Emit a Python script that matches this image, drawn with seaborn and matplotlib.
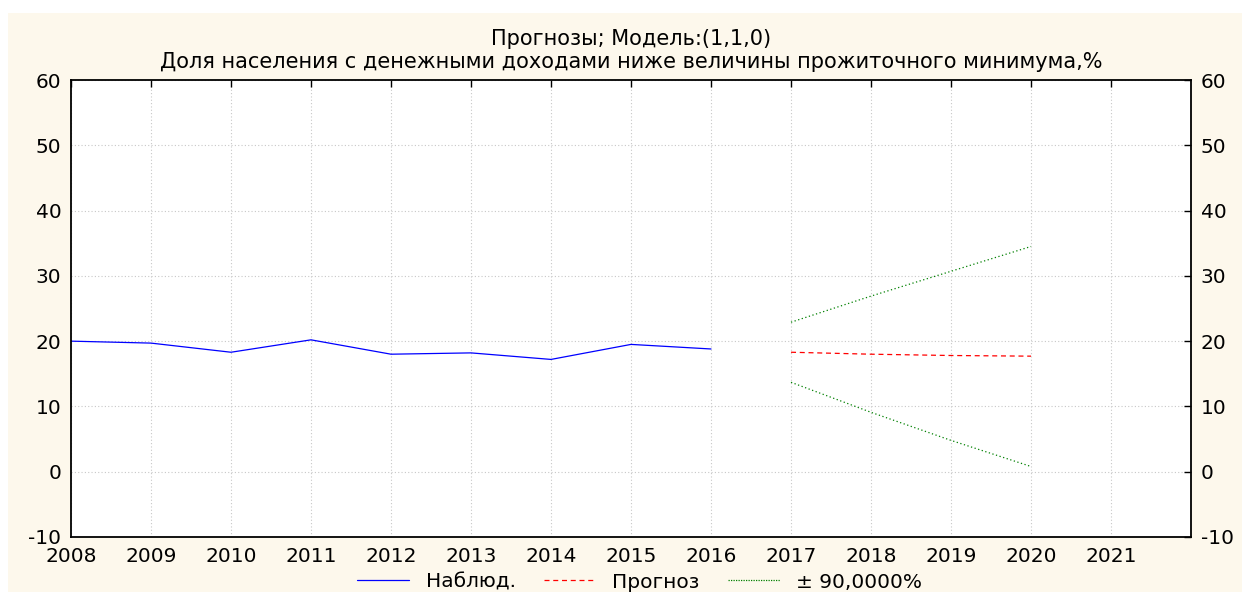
import matplotlib.pyplot as plt
import matplotlib.patches as mpatches
import seaborn as sns
import pandas as pd

# Наблюдаемые значения
years_obs = [2008, 2009, 2010, 2011, 2012, 2013, 2014, 2015, 2016]
observed = [20.0, 19.7, 18.3, 20.2, 18.0, 18.2, 17.2, 19.5, 18.8]

# Прогноз и доверительные границы
years_fc = [2017, 2018, 2019, 2020]
forecast = [18.3, 18.0, 17.8, 17.7]
upper = [22.9, 26.9, 30.7, 34.5]
lower = [13.7, 9.1, 4.8, 0.8]

title = 'Прогнозы; Модель:(1,1,0)\nДоля населения с денежными доходами ниже величины прожиточного минимума,%'
labels = ['Наблюд.', 'Прогноз', '± 90,0000%']

sns.set_theme(style='white')
plt.rcParams['font.family'] = ['DejaVu Sans']
plt.rcParams['axes.unicode_minus'] = False
plt.rcParams['text.color'] = 'black'
plt.rcParams['xtick.color'] = 'black'
plt.rcParams['ytick.color'] = 'black'

cream = '#fdf8ec'
fig = plt.figure(figsize=(12.42, 5.92), dpi=100, facecolor='white')
fig.patches.append(mpatches.Rectangle((8 / 1242, 0), 1, 1 - 13 / 592, transform=fig.transFigure,
                                      facecolor=cream, edgecolor='none', zorder=-10))
ax = fig.add_axes([71 / 1242, 1 - 537 / 592, 1120 / 1242, 457 / 592])
ax.set_facecolor('white')

df_obs = pd.DataFrame({'Год': years_obs, 'Значение': observed})
df_fc = pd.DataFrame({'Год': years_fc, 'Прогноз': forecast, 'Верх': upper, 'Низ': lower})

sns.lineplot(data=df_obs, x='Год', y='Значение', ax=ax, color='#0000ff', linewidth=0.9)
sns.lineplot(data=df_fc, x='Год', y='Прогноз', ax=ax, color='#ff0000', linewidth=0.9,
             linestyle=(0, (4, 3)))
sns.lineplot(data=df_fc, x='Год', y='Верх', ax=ax, color='#008000', linewidth=0.9,
             linestyle=(0, (1, 2)))
sns.lineplot(data=df_fc, x='Год', y='Низ', ax=ax, color='#008000', linewidth=0.9,
             linestyle=(0, (1, 2)))

ax.set_xlim(2008, 2022)
ax.set_ylim(-10, 60)
ax.set_xticks(list(range(2008, 2022)))
ax.set_yticks(list(range(-10, 61, 10)))
ax.set_xlabel('')
ax.set_ylabel('')
ax.grid(True, color='#c8c8c8', linestyle=(0, (1, 2)), linewidth=0.8)
for s in ax.spines.values():
    s.set_color('black')
    s.set_linewidth(1.3)
    s.set_visible(True)
ax.tick_params(direction='in', length=5, width=1, color='black', top=True, right=True,
               labelright=True, labelsize=14.5, pad=7)

ax.set_title(title, fontsize=15, pad=9, linespacing=1.15, color='black')

handles = [
    plt.Line2D([], [], color='#0000ff', linewidth=0.9),
    plt.Line2D([], [], color='#ff0000', linewidth=0.9, linestyle=(0, (4, 3))),
    plt.Line2D([], [], color='#008000', linewidth=0.9, linestyle=(0, (1, 1))),
]
fig.legend(handles, labels, loc='center', bbox_to_anchor=(0.515, 1 - 582 / 592), ncol=3,
           frameon=False, fontsize=14.5, handlelength=2.6, handletextpad=0.8,
           columnspacing=1.4)

fig.savefig('out.png', dpi=100, facecolor='white')
